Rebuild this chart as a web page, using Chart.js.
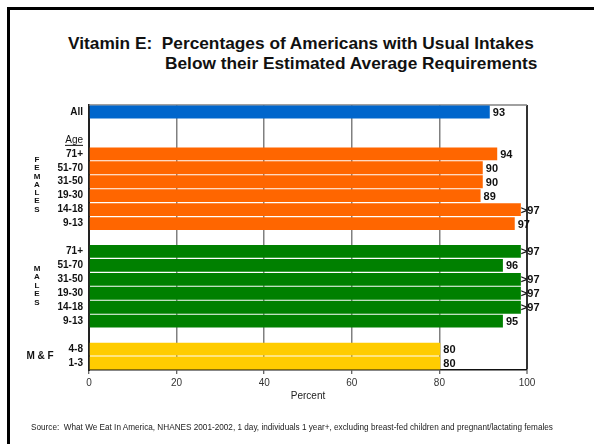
<!DOCTYPE html>
<html>
<head>
<meta charset="utf-8">
<script src="https://cdn.jsdelivr.net/npm/chart.js@4/dist/chart.umd.min.js"></script>
<style>
  html, body { margin: 0; padding: 0; background: #fff; }
  #wrap { position: relative; width: 594px; height: 444px; overflow: hidden; font-family: "Liberation Sans", Arial, sans-serif; }
  #frame { position: absolute; left: 7px; top: 7px; width: 700px; height: 600px; border-left: 3px solid #000; border-top: 3px solid #000; }
  .title { position: absolute; font-weight: bold; font-size: 17.3px; color: #111; white-space: pre; line-height: 20px; }
  #source { position: absolute; left: 31px; top: 423px; font-size: 8.2px; line-height: 10px; color: #222; white-space: pre; }
  canvas { position: absolute; left: 0; top: 0; }
</style>
</head>
<body>
<div id="wrap">
  <div id="frame"></div>
  <div class="title" id="t1" style="left:68px; top:33px;">Vitamin E:  Percentages of Americans with Usual Intakes</div>
  <div class="title" id="t2" style="left:165px; top:53px;">Below their Estimated Average Requirements</div>
  <canvas id="chart" width="594" height="444"></canvas>
  <div id="source">Source:  What We Eat In America, NHANES 2001-2002, 1 day, individuals 1 year+, excluding breast-fed children and pregnant/lactating females</div>
</div>
<script>
/* ───────────────────────────── data */
const categories  = ['All', '', 'Age', '71+', '51-70', '31-50', '19-30', '14-18', '9-13', '',
                     '71+', '51-70', '31-50', '19-30', '14-18', '9-13', '', '4-8', '1-3'];
const groups      = ['all', '', '', 'F', 'F', 'F', 'F', 'F', 'F', '',
                     'M', 'M', 'M', 'M', 'M', 'M', '', 'MF', 'MF'];
const barValues   = [91.5, null, null, 93.2, 89.9, 89.9, 89.4, 98.6, 97.2, null,
                     98.6, 94.5, 98.6, 98.6, 98.6, 94.5, null, 80.2, 80.2];
const valueLabels = ['93', '', '', '94', '90', '90', '89', '>97', '97', '',
                     '>97', '96', '>97', '>97', '>97', '95', '', '80', '80'];
const groupColors = { all: '#0066CC', F: '#FF6600', M: '#008000', MF: '#FFCC00', '': '#fff' };
const xTicks      = [0, 20, 40, 60, 80, 100];

const FONT = '"Liberation Sans", Arial, sans-serif';

/* ───────────────────────────── plugins */
const framePlugin = {
  id: 'frame',
  beforeDatasetsDraw(chart) {
    const { ctx, chartArea: a } = chart;
    ctx.save();
    ctx.strokeStyle = '#808080';
    ctx.lineWidth = 1.5;
    ctx.beginPath();
    ctx.moveTo(a.left, a.top);
    ctx.lineTo(a.right, a.top);
    ctx.stroke();
    ctx.restore();
  }
};

const labelPlugin = {
  id: 'valueLabels',
  afterDatasetsDraw(chart) {
    const { ctx } = chart;
    const meta = chart.getDatasetMeta(0);
    ctx.save();
    ctx.font = 'bold 11px ' + FONT;
    ctx.fillStyle = '#111';
    ctx.textBaseline = 'middle';
    ctx.textAlign = 'left';
    meta.data.forEach((bar, i) => {
      const t = valueLabels[i];
      if (!t) return;
      const off = t.startsWith('>') ? 0 : 3;
      ctx.fillText(t, bar.x + off, bar.y + 1);
    });

    // group labels on the far left
    const y = chart.scales.y;
    const mid = (a, b) => (y.getPixelForValue(a) + y.getPixelForValue(b)) / 2;
    const stack = (word, cx, cy, step) => {
      const n = word.length;
      word.split('').forEach((ch, k) => {
        ctx.fillText(ch, cx, cy + (k - (n - 1) / 2) * step);
      });
    };
    ctx.textAlign = 'center';
    ctx.font = 'bold 8px ' + FONT;
    stack('FEMALES', 37, mid(3, 8) - 4, 8.3);
    stack('MALES', 37, mid(10, 15) - 1, 8.5);
    ctx.font = 'bold 10px ' + FONT;
    ctx.fillText('M & F', 40, mid(17, 18));

    // underline under "Age"
    const ay = y.getPixelForValue(2) + 5;
    ctx.strokeStyle = '#111';
    ctx.lineWidth = 1;
    ctx.beginPath();
    ctx.moveTo(y.right - 6 - 18, ay + 0.5);
    ctx.lineTo(y.right - 6, ay + 0.5);
    ctx.stroke();
    ctx.restore();
  }
};

/* ───────────────────────────── chart */
new Chart(document.getElementById('chart').getContext('2d'), {
  type: 'bar',
  data: {
    labels: categories,
    datasets: [{
      data: barValues,
      backgroundColor: groups.map(g => groupColors[g]),
      borderWidth: 0,
      barPercentage: 0.92,
      categoryPercentage: 1
    }]
  },
  options: {
    indexAxis: 'y',
    responsive: false,
    animation: false,
    layout: { padding: { left: 0, right: 67, top: 105, bottom: 42 } },
    plugins: { legend: { display: false }, tooltip: { enabled: false } },
    scales: {
      x: {
        min: 0, max: 100,
        afterBuildTicks(s) { s.ticks = xTicks.map(v => ({ value: v })); },
        afterFit(s) { s.height = 32; },
        grid: {
          color: c => c.tick.value === 0 ? 'rgba(0,0,0,0)' : (c.tick.value === 100 ? '#333' : '#808080'),
          lineWidth: c => c.tick.value === 100 ? 2 : 1.5,
          tickColor: '#333',
          tickLength: 4,
          tickWidth: 1
        },
        border: { display: true, color: '#111', width: 1.5 },
        ticks: { color: '#333', font: { family: FONT, size: 10 }, padding: 3 },
        title: { display: true, text: 'Percent', color: '#222', font: { family: FONT, size: 10 }, padding: 0 }
      },
      y: {
        afterFit(s) { s.width = 89; },
        grid: { display: false, drawTicks: false },
        border: { display: true, color: '#222', width: 2 },
        ticks: {
          autoSkip: false,
          color: '#111',
          padding: 6,
          font: c => ({ family: FONT, size: 10, weight: c.index === 2 ? 'normal' : 'bold' })
        }
      }
    }
  },
  plugins: [framePlugin, labelPlugin]
});
</script>
</body>
</html>
